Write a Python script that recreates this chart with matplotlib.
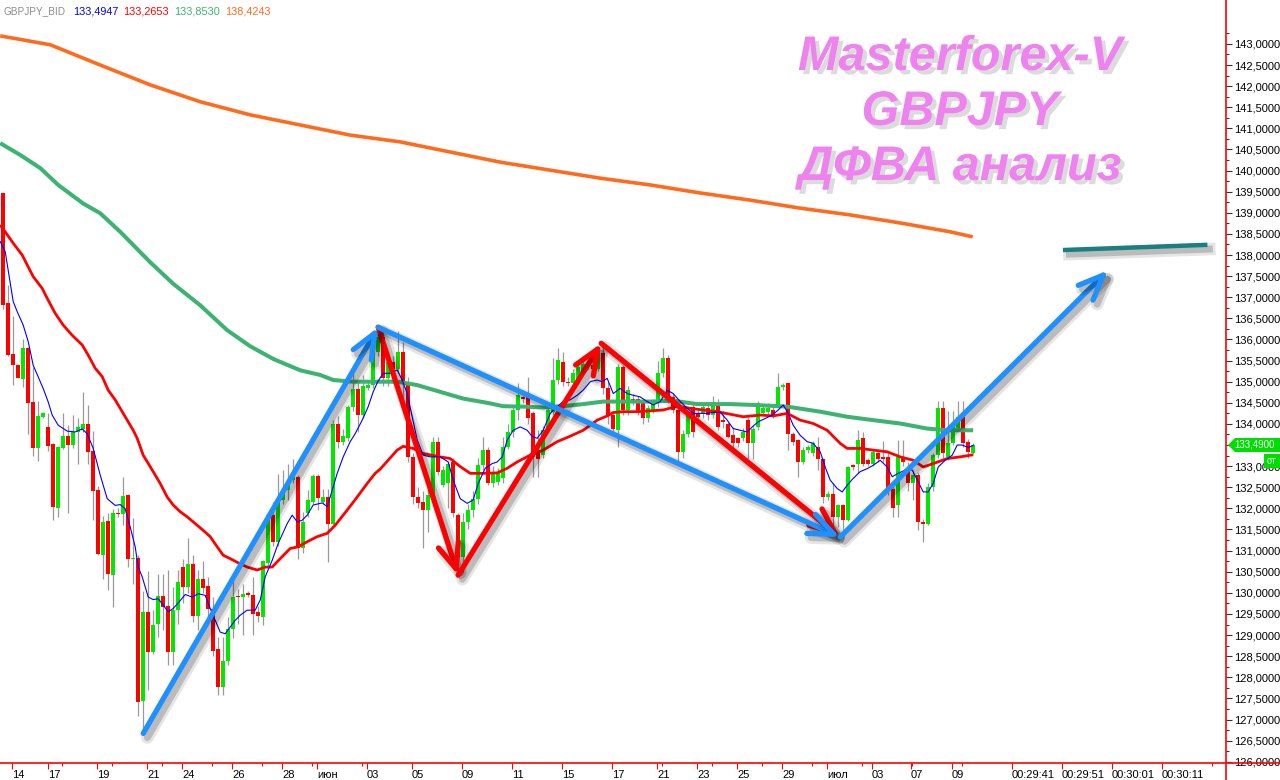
import numpy as np
import matplotlib
matplotlib.use('Agg')
import matplotlib.pyplot as plt
import matplotlib.patheffects as pe
from matplotlib.lines import Line2D
from matplotlib.patches import Polygon, Rectangle
from matplotlib.ticker import FuncFormatter, FixedLocator

plt.rcParams['font.family'] = ['Liberation Sans', 'DejaVu Sans']

# H4 candles GBPJPY
opens = [139.46, 136.86, 135.65, 135.40, 135.06, 135.80, 134.52, 133.42, 134.17, 133.93,
         133.52, 132.01, 133.43, 133.72, 133.50, 133.80, 133.89, 134.00, 133.36, 132.43,
         130.90, 131.69, 130.42, 131.90, 131.86, 132.31, 130.79, 130.83, 127.44, 129.55,
         128.60, 129.27, 129.93, 129.68, 128.60, 129.59, 130.60, 130.14, 130.68, 129.45,
         130.32, 130.16, 129.61, 128.66, 127.77, 128.39, 129.14, 129.92, 129.89, 130.00,
         129.94, 129.55, 129.43, 130.71, 131.84, 131.21, 132.19, 132.43, 132.67, 132.75,
         131.05, 131.89, 132.16, 132.76, 132.15, 132.27, 131.63, 134.01, 133.58, 133.66,
         134.39, 134.82, 134.21, 134.84, 134.92, 135.71, 136.05, 135.08, 135.47, 135.30,
         135.71, 135.00, 133.22, 132.27, 132.16, 131.96, 132.31, 133.58, 132.55, 132.60,
         133.10, 131.84, 130.85, 131.68, 131.96, 132.23, 133.02, 133.38, 132.59, 132.63,
         132.71, 133.46, 133.81, 134.33, 134.64, 134.64, 134.25, 133.30, 133.26, 133.85,
         134.29, 135.04, 135.47, 135.00, 134.96, 135.00, 135.24, 135.43, 135.39, 135.31,
         135.67, 134.84, 134.21, 133.85, 135.35, 134.33, 134.60, 134.60, 134.50, 134.13,
         134.33, 134.49, 135.20, 135.55, 134.64, 134.33, 133.34, 133.77, 134.41, 134.25,
         134.25, 134.37, 134.21, 134.50, 134.10, 134.01, 133.73, 133.66, 133.66, 134.09,
         133.54, 133.93, 134.25, 134.29, 134.33, 134.45, 134.88, 134.96, 133.77, 133.62,
         133.10, 133.38, 133.30, 133.46, 133.18, 132.27, 132.35, 131.80, 132.08, 131.72,
         133.02, 133.06, 133.66, 133.14, 133.06, 133.30, 133.22, 133.22, 132.47, 132.08,
         133.22, 132.91, 132.59, 132.79, 131.68, 131.64, 132.51, 133.26, 134.37, 133.22,
         133.54, 133.90, 134.17, 133.58, 133.30]
highs = [139.47, 137.29, 136.56, 135.42, 136.01, 135.82, 135.35, 134.54, 134.28, 134.27,
         133.55, 133.48, 134.25, 133.97, 134.21, 134.15, 134.75, 134.45, 133.83, 132.54,
         131.82, 131.88, 131.99, 132.00, 132.75, 132.35, 131.78, 130.90, 130.04, 130.51,
         129.59, 130.44, 130.44, 130.55, 130.14, 130.54, 130.81, 131.31, 130.89, 130.54,
         130.76, 130.38, 129.90, 128.96, 128.96, 129.43, 130.34, 130.08, 130.22, 130.05,
         130.38, 129.70, 130.77, 131.90, 132.15, 132.81, 132.92, 133.06, 133.18, 132.80,
         131.92, 132.43, 132.81, 132.81, 132.47, 132.47, 134.09, 134.19, 133.89, 134.45,
         135.20, 135.04, 135.16, 135.00, 135.80, 136.30, 136.20, 135.70, 135.60, 136.20,
         135.95, 135.10, 133.30, 132.50, 132.40, 132.51, 133.70, 133.70, 133.00, 133.10,
         133.20, 131.90, 131.88, 132.10, 132.40, 133.20, 133.70, 133.45, 133.00, 132.95,
         133.70, 134.00, 134.45, 134.96, 134.80, 135.10, 134.30, 133.85, 133.95, 134.40,
         135.55, 135.80, 135.70, 135.10, 135.30, 135.40, 135.60, 135.50, 135.45, 135.85,
         135.90, 135.00, 134.30, 135.43, 135.40, 134.90, 134.70, 134.65, 134.55, 134.45,
         134.55, 135.50, 135.80, 135.63, 134.70, 134.40, 133.85, 134.30, 134.50, 134.35,
         134.45, 134.45, 134.65, 134.60, 134.30, 134.05, 133.93, 133.70, 133.90, 134.17,
         133.95, 134.55, 134.45, 134.50, 134.40, 135.20, 134.96, 135.00, 133.80, 133.65,
         133.45, 133.50, 133.60, 133.70, 133.20, 132.40, 132.59, 132.10, 132.10, 133.00,
         133.05, 133.85, 133.81, 133.20, 133.40, 133.35, 133.60, 133.30, 132.60, 133.62,
         133.62, 133.10, 132.90, 132.85, 131.75, 132.60, 133.30, 134.55, 134.55, 134.30,
         134.30, 134.55, 134.55, 133.65, 133.55]
lows = [136.72, 135.60, 134.92, 135.08, 134.88, 133.77, 133.25, 133.12, 134.15, 133.36,
        131.72, 131.80, 133.40, 131.88, 133.42, 133.06, 133.80, 133.06, 131.72, 130.89,
        130.33, 130.06, 129.66, 131.80, 131.60, 130.61, 130.22, 127.08, 126.67, 127.69,
        128.55, 128.96, 129.11, 128.30, 128.28, 129.27, 129.75, 130.00, 129.30, 129.13,
        130.00, 129.35, 128.50, 127.57, 127.57, 128.30, 128.92, 129.27, 129.00, 129.90,
        129.00, 129.30, 129.23, 130.60, 131.10, 131.10, 132.10, 132.19, 132.60, 130.81,
        130.95, 131.80, 132.10, 131.96, 132.10, 130.73, 131.55, 133.42, 133.50, 133.60,
        134.30, 133.81, 134.15, 134.80, 134.85, 135.60, 134.90, 134.90, 135.20, 135.20,
        134.50, 133.10, 132.10, 132.00, 131.05, 131.44, 132.20, 132.80, 132.50, 132.00,
        131.80, 130.42, 130.50, 131.50, 131.80, 132.10, 132.90, 132.55, 132.50, 132.55,
        132.60, 133.40, 133.70, 134.10, 134.50, 134.00, 132.75, 132.75, 133.20, 133.80,
        134.20, 134.95, 134.90, 134.90, 134.90, 134.95, 135.20, 135.30, 135.25, 135.25,
        134.70, 134.00, 133.80, 133.46, 134.20, 134.20, 134.45, 134.20, 134.00, 134.05,
        134.25, 134.40, 135.10, 134.50, 134.25, 133.10, 133.20, 133.70, 133.70, 134.10,
        134.15, 134.10, 134.15, 133.85, 133.90, 133.66, 133.30, 133.46, 133.60, 133.18,
        133.18, 133.85, 134.20, 134.20, 134.15, 134.40, 134.80, 133.38, 133.50, 132.75,
        133.05, 133.30, 133.25, 132.91, 132.12, 132.20, 131.56, 131.56, 131.30, 131.70,
        132.90, 132.83, 133.00, 133.00, 133.00, 133.10, 133.10, 132.31, 131.80, 131.80,
        133.00, 132.40, 132.19, 131.48, 131.20, 131.60, 132.40, 133.20, 133.20, 133.15,
        133.50, 133.85, 133.45, 133.20, 133.28]
closes = [136.82, 135.63, 135.39, 135.09, 135.80, 134.49, 133.42, 134.19, 134.26, 133.48,
          132.04, 133.46, 133.72, 133.50, 133.80, 133.92, 134.00, 133.34, 132.42, 130.93,
          131.67, 130.45, 131.90, 131.86, 132.29, 130.79, 130.83, 127.42, 129.55, 128.60,
          129.23, 129.93, 129.67, 128.60, 129.59, 130.26, 130.14, 130.68, 129.45, 130.32,
          130.12, 129.61, 128.62, 127.77, 128.39, 129.15, 129.89, 129.89, 129.97, 129.94,
          129.51, 129.45, 130.76, 131.84, 131.21, 132.19, 132.43, 132.63, 132.75, 131.05,
          131.68, 132.19, 132.76, 132.25, 132.27, 131.64, 134.01, 133.58, 133.71, 134.39,
          134.82, 134.21, 134.90, 134.92, 135.71, 136.05, 135.08, 135.47, 135.30, 135.71,
          135.00, 133.22, 132.27, 132.12, 131.96, 132.31, 133.58, 132.87, 132.91, 133.06,
          131.88, 130.85, 131.68, 131.96, 132.23, 133.02, 133.38, 132.59, 132.81, 132.83,
          133.46, 133.81, 134.33, 134.68, 134.60, 134.13, 133.22, 133.18, 133.85, 134.33,
          135.04, 135.51, 135.00, 134.96, 135.20, 135.35, 135.43, 135.39, 135.31, 135.71,
          134.84, 134.21, 133.89, 135.35, 134.33, 134.80, 134.53, 134.29, 134.13, 134.37,
          134.49, 135.20, 135.55, 134.60, 134.33, 133.34, 133.77, 134.25, 133.81, 134.17,
          134.39, 134.21, 134.53, 133.93, 134.05, 133.70, 133.54, 133.54, 133.81, 133.54,
          133.89, 134.49, 134.37, 134.37, 134.21, 134.88, 134.92, 133.77, 133.58, 133.10,
          133.38, 133.46, 133.54, 133.18, 132.27, 132.35, 131.80, 132.08, 131.72, 132.98,
          132.98, 133.62, 133.06, 133.06, 133.34, 133.18, 133.18, 132.47, 132.00, 133.22,
          133.10, 132.59, 132.79, 131.68, 131.64, 132.51, 133.26, 134.37, 133.30, 133.54,
          134.01, 134.17, 133.54, 133.34, 133.49]

# moving averages (bar index, price) as traced on the chart
blue_x = [-0.5, 0.5, 2.1, 2.9, 4.1, 5.1, 6.1, 8.1, 9.1, 9.9, 11.1, 12.9, 14.5, 15.9, 16.9, 18.1,
          19.5, 20.9, 22.5, 23.5, 24.5, 25.5, 26.5, 27.1, 27.9, 28.5, 29.1, 30.1, 31.1, 32.1,
          33.1, 34.1, 35.1, 36.5, 37.9, 39.1, 40.5, 41.5, 42.5, 43.5, 44.5, 45.5, 46.5, 47.5,
          48.9, 50.5, 51.5, 52.5, 53.9, 55.1, 56.9, 57.9, 58.9, 59.9, 60.9, 62.1, 63.9, 64.9,
          65.9, 66.9, 68.1, 69.5, 70.5, 71.9, 73.1, 74.1, 75.0, 76.1, 77.5, 78.9, 79.9, 80.9,
          81.9, 82.9, 84.1, 85.5, 87.5, 89.1, 90.1, 91.5, 92.9, 94.1, 95.1, 96.5, 97.9, 98.9,
          99.9, 100.9, 102.1, 103.5, 104.9, 105.9, 106.9, 108.1, 109.5, 110.9, 112.1, 113.5,
          114.9, 116.1, 117.5, 118.9, 119.9, 120.9, 122.1, 123.5, 124.9, 126.1, 127.5, 128.9,
          130.1, 131.5, 132.9, 134.1, 135.5, 136.9, 138.1, 139.5, 140.9, 142.1, 143.5, 144.9,
          146.1, 147.5, 148.9, 149.9, 151.1, 152.5, 153.9, 155.1, 156.1, 157.1, 158.1, 159.5,
          160.9, 162.1, 163.5, 164.5, 165.5, 166.9, 167.9, 168.9, 170.1, 171.5, 172.9, 174.1,
          175.5, 176.9, 177.9, 179.1, 180.5, 181.9, 183.1, 184.1, 185.1, 186.1, 187.1, 188.5,
          189.9, 190.9, 191.9, 193.1, 194.1]
blue_y = [138.32, 138.08, 136.90, 136.66, 136.34, 135.95, 135.39, 134.84, 134.52, 134.21, 133.97,
          133.83, 133.81, 133.88, 133.77, 133.42, 132.79, 132.23, 132.07, 132.09, 131.99, 131.56,
          131.09, 130.61, 130.38, 130.14, 129.90, 129.84, 129.86, 129.71, 129.55, 129.63, 129.76,
          129.96, 129.90, 129.98, 129.94, 129.63, 129.35, 129.07, 129.03, 129.19, 129.35, 129.47,
          129.59, 129.59, 129.83, 130.38, 130.77, 131.17, 131.64, 131.84, 131.68, 131.72, 131.84,
          132.08, 132.13, 132.04, 132.43, 132.83, 133.22, 133.58, 133.77, 134.09, 134.41, 134.76,
          135.00, 135.20, 135.20, 135.28, 135.04, 134.72, 134.17, 133.62, 133.26, 133.22, 133.22,
          133.10, 132.67, 132.23, 132.12, 132.20, 132.59, 132.95, 133.06, 133.10, 133.22, 133.62,
          133.85, 133.93, 133.85, 133.70, 133.66, 133.85, 134.25, 134.41, 134.53, 134.57, 134.68,
          134.80, 135.00, 135.04, 135.00, 135.08, 134.72, 134.84, 134.72, 134.68, 134.64, 134.53,
          134.45, 134.53, 134.80, 134.72, 134.53, 134.37, 134.25, 134.25, 134.25, 134.27, 134.28,
          134.09, 133.89, 133.85, 133.81, 133.93, 134.05, 134.13, 134.21, 134.33, 134.45, 134.25,
          133.97, 133.73, 133.58, 133.54, 133.34, 132.98, 132.67, 132.47, 132.39, 132.55, 132.71,
          132.87, 132.94, 133.02, 133.14, 132.98, 132.75, 132.83, 132.91, 132.91, 132.63, 132.39,
          132.39, 132.59, 132.98, 133.14, 133.26, 133.50, 133.50, 133.44, 133.49]
red_x = [-0.5, 0.5, 2.1, 3.9, 5.1, 6.1, 7.9, 9.1, 10.5, 12.1, 13.9, 15.9, 17.1, 18.5, 19.9, 21.1,
         22.5, 23.5, 26.1, 26.9, 28.1, 29.9, 31.5, 32.9, 34.1, 35.5, 36.9, 38.5, 40.1, 41.5,
         42.9, 44.1, 45.5, 47.1, 48.9, 50.9, 52.5, 53.9, 55.5, 57.5, 59.1, 60.9, 62.9, 64.9,
         66.5, 68.9, 70.9, 72.9, 74.5, 75.5, 78.9, 80.1, 82.1, 84.1, 87.5, 89.5, 91.5, 93.5,
         96.1, 98.9, 100.9, 102.9, 105.5, 108.1, 110.9, 113.5, 116.1, 118.9, 120.9, 122.1,
         124.1, 126.9, 129.5, 132.1, 134.9, 137.5, 140.1, 142.9, 145.5, 148.1, 151.5, 154.1,
         156.9, 159.5, 162.1, 164.9, 167.5, 168.9, 171.5, 174.1, 176.9, 179.5, 182.1, 184.1,
         186.1, 188.9, 191.5, 194.1]
red_y = [138.71, 138.55, 138.28, 138.00, 137.72, 137.49, 137.21, 136.93, 136.62, 136.34, 136.10,
         135.87, 135.63, 135.32, 135.12, 134.80, 134.57, 134.37, 133.85, 133.66, 133.26, 132.91,
         132.59, 132.27, 132.08, 131.92, 131.80, 131.64, 131.48, 131.33, 131.09, 130.89, 130.81,
         130.71, 130.61, 130.54, 130.61, 130.61, 130.81, 131.05, 131.09, 131.21, 131.33, 131.41,
         131.60, 131.96, 132.27, 132.59, 132.83, 132.93, 133.38, 133.47, 133.42, 133.30, 133.22,
         133.18, 132.99, 132.83, 132.83, 132.84, 132.95, 133.10, 133.26, 133.38, 133.58, 133.71,
         133.85, 134.09, 134.19, 134.27, 134.29, 134.29, 134.31, 134.33, 134.42, 134.37, 134.33,
         134.29, 134.23, 134.17, 134.21, 134.19, 134.25, 134.09, 134.01, 133.85, 133.54, 133.42,
         133.42, 133.38, 133.34, 133.22, 133.14, 132.98, 133.06, 133.18, 133.22, 133.27]
green_x = [-0.5, 3.5, 7.5, 11.1, 16.1, 19.5, 23.5, 29.5, 34.1, 39.5, 44.9, 49.5, 54.1, 59.5,
           63.5, 66.1, 70.1, 75.5, 78.9, 82.9, 87.5, 92.1, 96.9, 100.1, 104.1, 108.1, 112.1,
           116.1, 120.1, 125.5, 129.5, 134.1, 138.9, 145.5, 150.1, 156.9, 163.5, 168.9, 174.1,
           179.5, 184.9, 188.9, 194.1]
green_y = [140.65, 140.37, 140.06, 139.66, 139.22, 138.99, 138.55, 137.83, 137.32, 136.81, 136.22,
           135.84, 135.54, 135.27, 135.16, 135.04, 135.00, 135.00, 135.00, 134.92, 134.76, 134.60,
           134.50, 134.42, 134.41, 134.39, 134.42, 134.47, 134.53, 134.53, 134.53, 134.55, 134.47,
           134.47, 134.45, 134.41, 134.29, 134.17, 134.09, 134.01, 133.89, 133.85, 133.85]
orange_x = [-0.5, 9.5, 19.5, 29.5, 39.5, 49.5, 59.5, 69.5, 79.5, 89.5, 99.5, 109.5, 119.5,
            129.5, 139.5, 149.5, 159.5, 169.5, 179.5, 189.5, 194.0]
orange_y = [143.19, 142.98, 142.50, 142.03, 141.63, 141.32, 141.08, 140.84, 140.68, 140.44, 140.20,
            140.01, 139.82, 139.66, 139.47, 139.30, 139.11, 138.95, 138.76, 138.55, 138.43]

# wave markup (bar index, price)
blue_waves = [((28.1, 126.67), (75.1, 136.29)), ((75.1, 136.29), (167.5, 131.32)),
              ((167.5, 131.32), (221.1, 137.64))]
red_waves = [((75.1, 136.29), (91.1, 130.42)), ((91.1, 130.42), (119.7, 135.91)),
             ((119.7, 135.91), (167.5, 131.32))]
target_line = ((212.5, 138.12), (240.5, 138.24))

time_labels = ['14', '17', '19', '21', '24', '26', '28', 'июн', '03', '05', '09', '11', '15', '17',
               '21', '23', '25', '29', 'июл', '03', '07', '09',
               '00:29:41', '00:29:51', '00:30:01', '00:30:11']
time_pos = [1.86, 9.06, 18.86, 28.86, 35.86, 45.86, 55.86, 62.86, 72.86, 81.86, 91.86, 101.86,
            111.86, 121.86, 130.86, 138.86, 146.86, 155.86, 164.86, 173.86, 181.66, 189.86,
            201.86, 211.86, 221.86, 231.86]
legend_vals = ['133,4947', '133,2653', '133,8530', '138,4243']
last_price = '133,4900'

W, H = 1280, 780
fig = plt.figure(figsize=(12.8, 7.8), dpi=100)
fig.patch.set_facecolor('white')
ax = fig.add_axes([0, 17 / H, 1226 / W, 763 / H])
ax.set_xlim(-0.54, 244.66)
ax.set_ylim(125.97, 144.04)
for s in ax.spines.values():
    s.set_visible(False)

o = np.array(opens); c = np.array(closes)
hi = np.array(highs); lo = np.array(lows)
x = np.arange(len(c))
up = c >= o
ax.vlines(x, lo, hi, color='#9a9a9a', lw=0.9, zorder=2)
bot = np.minimum(o, c)
hgt = np.maximum(np.abs(c - o), 0.04)
ax.bar(x[up], hgt[up], bottom=bot[up], width=0.74, color='#00e800', lw=0, zorder=3)
ax.bar(x[~up], hgt[~up], bottom=bot[~up], width=0.74, color='#ff0000', lw=0, zorder=3)

ax.plot(orange_x, orange_y, color='#ff6a1c', lw=2.6, zorder=4, solid_capstyle='butt')
ax.plot(green_x, green_y, color='#3cb371', lw=2.9, zorder=4, solid_capstyle='butt')
ax.plot(red_x, red_y, color='#ff0000', lw=2.0, zorder=4, solid_capstyle='butt')
ax.plot(blue_x, blue_y, color='#0000ff', lw=0.8, zorder=4)

shadow = [pe.SimpleLineShadow(offset=(3, -3), shadow_color='black', alpha=0.10, linewidth=9),
          pe.SimpleLineShadow(offset=(3, -3), shadow_color='black', alpha=0.18, linewidth=5),
          pe.Normal()]


def wave(p0, p1, color):
    ax.annotate('', xy=p1, xytext=p0, zorder=6,
                arrowprops=dict(arrowstyle='->,head_length=1.8,head_width=0.75', color=color,
                                lw=3.8, shrinkA=0, shrinkB=0, path_effects=shadow))


for p0, p1 in red_waves:
    wave(p0, p1, '#ff0000')
for p0, p1 in blue_waves:
    wave(p0, p1, '#1e90ff')
ax.plot([target_line[0][0], target_line[1][0]], [target_line[0][1], target_line[1][1]],
        color='#188080', lw=3.2, zorder=6, path_effects=shadow, clip_on=False)

# price scale on the right
ax.yaxis.tick_right()
ax.yaxis.set_major_locator(FixedLocator(np.arange(126.0, 143.01, 0.5)))
ax.yaxis.set_minor_locator(FixedLocator(np.arange(126.25, 143.5, 0.5)))
ax.yaxis.set_major_formatter(FuncFormatter(lambda v, p: f'{v:.4f}'.replace('.', ',')))
ax.tick_params(axis='y', which='major', length=4, width=0.8, color='#333333', labelsize=8,
               pad=2, labelcolor='black')
ax.tick_params(axis='y', which='minor', length=2, width=0.8, color='#333333')
ax.set_xticks(time_pos)
ax.set_xticklabels(time_labels, ha='left')
ax.set_xticks([1.86 + 10 * k for k in range(25)], minor=True)
ax.tick_params(axis='x', which='major', length=4, width=0.8, color='red', labelsize=8, pad=1)
ax.tick_params(axis='x', which='minor', length=2.5, width=0.8, color='red')

fig.add_artist(Line2D([0, 1], [17 / H, 17 / H], color='red', lw=1.2))
fig.add_artist(Line2D([1226 / W, 1226 / W], [0, 1], color='red', lw=1.2))

# legend line top-left
fig.text(4 / W, 1 - 11 / H, 'GBPJPY_BID', color='#8c8c8c', fontsize=7.2, va='center')
for xp, val, col in zip([73, 123, 174, 225], legend_vals,
                        ['#0000ff', '#ff0000', '#3cb371', '#ff6a1c']):
    fig.text(xp / W, 1 - 11 / H, val, color=col, fontsize=7.8, va='center')

# current price tag
tag = [(1228, 445), (1235, 438), (1280, 438), (1280, 452), (1235, 452)]
fig.add_artist(Polygon([(a / W, 1 - b / H) for a, b in tag], closed=True, color='#00dd00', lw=0))
fig.text(1234 / W, 1 - 444.5 / H, last_price, color='white', fontsize=7, va='center')
fig.add_artist(Rectangle((1264 / W, 1 - 468 / H), 16 / W, 14 / H, color='#00dd00', lw=0))
fig.text(1272 / W, 1 - 462 / H, '0T', color='white', fontsize=6.2, va='center', ha='center')

# title
tshadow = [pe.withSimplePatchShadow(offset=(3, -3), shadow_rgbFace='#888888', alpha=0.3)]
for txt, yb in [('Masterforex-V', 70), ('GBPJPY', 125), ('ДФВА анализ', 180)]:
    fig.text(960 / W, 1 - yb / H, txt, color='#ee82ee', fontsize=35, fontweight='bold',
             fontstyle='italic', ha='center', va='baseline', path_effects=tshadow)

fig.savefig('out.png', dpi=100)
